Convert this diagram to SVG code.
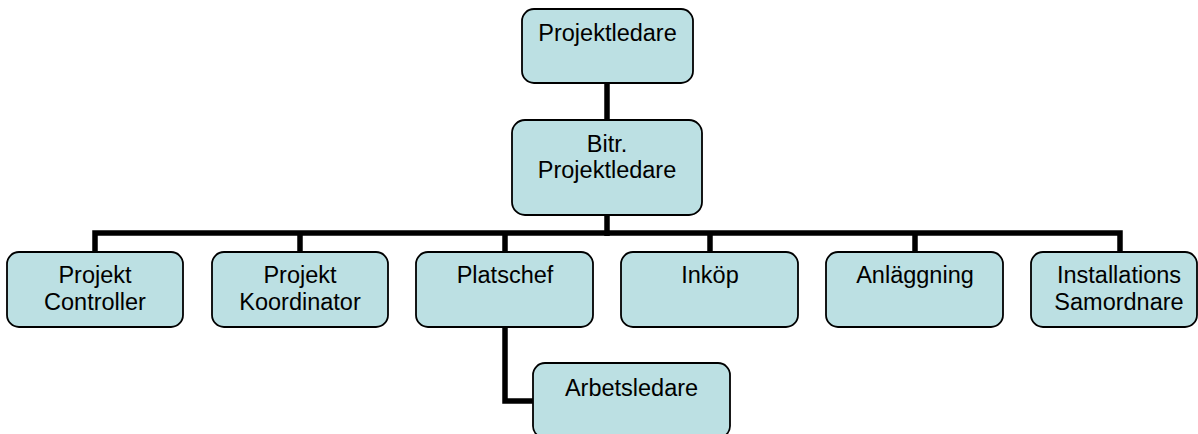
<svg xmlns="http://www.w3.org/2000/svg" width="1198" height="434" viewBox="0 0 1198 434">
<style>
.box{fill:#bce0e3;stroke:#000;stroke-width:1.8}
.lbl{font-family:"Liberation Sans",Arial,sans-serif;font-size:23.5px;fill:#000;text-anchor:middle}
.con{fill:none;stroke:#000;stroke-width:5.5;stroke-linejoin:miter;stroke-linecap:butt}
</style>
<rect width="1198" height="434" fill="#fff"/>
<g id="connectors">
<line class="con" x1="607" y1="83" x2="607" y2="120"/>
<line class="con" x1="607" y1="215" x2="607" y2="236"/>
<polyline class="con" points="95,252 95,233 1120,233 1120,252"/>
<line class="con" x1="300" y1="233" x2="300" y2="252"/>
<line class="con" x1="505" y1="233" x2="505" y2="252"/>
<line class="con" x1="710" y1="233" x2="710" y2="252"/>
<line class="con" x1="915" y1="233" x2="915" y2="252"/>
<polyline class="con" points="505,327 505,401 533,401"/>
</g>
<g id="projektledare"><rect class="box" x="522" y="9" width="171" height="74" rx="12"/><text class="lbl" x="607.5" y="41">Projektledare</text></g>
<g id="bitr-projektledare"><rect class="box" x="512" y="120" width="190" height="95" rx="13"/><text class="lbl" x="607" y="152">Bitr.</text><text class="lbl" x="607" y="178">Projektledare</text></g>
<g id="projekt-controller"><rect class="box" x="7" y="252" width="176" height="75" rx="12"/><text class="lbl" x="95" y="283">Projekt</text><text class="lbl" x="95" y="310">Controller</text></g>
<g id="projekt-koordinator"><rect class="box" x="212" y="252" width="176" height="75" rx="12"/><text class="lbl" x="300" y="283">Projekt</text><text class="lbl" x="300" y="310">Koordinator</text></g>
<g id="platschef"><rect class="box" x="416" y="252" width="177" height="75" rx="12"/><text class="lbl" x="505" y="283">Platschef</text></g>
<g id="inkop"><rect class="box" x="621" y="252" width="177" height="75" rx="12"/><text class="lbl" x="710" y="283">Inköp</text></g>
<g id="anlaggning"><rect class="box" x="826" y="252" width="177" height="75" rx="12"/><text class="lbl" x="915" y="283">Anläggning</text></g>
<g id="installations-samordnare"><rect class="box" x="1031" y="252" width="166" height="75" rx="12"/><text class="lbl" x="1119" y="283">Installations</text><text class="lbl" x="1119" y="310">Samordnare</text></g>
<g id="arbetsledare"><rect class="box" x="533" y="363" width="197" height="75" rx="12"/><text class="lbl" x="631.5" y="396">Arbetsledare</text></g>
</svg>
